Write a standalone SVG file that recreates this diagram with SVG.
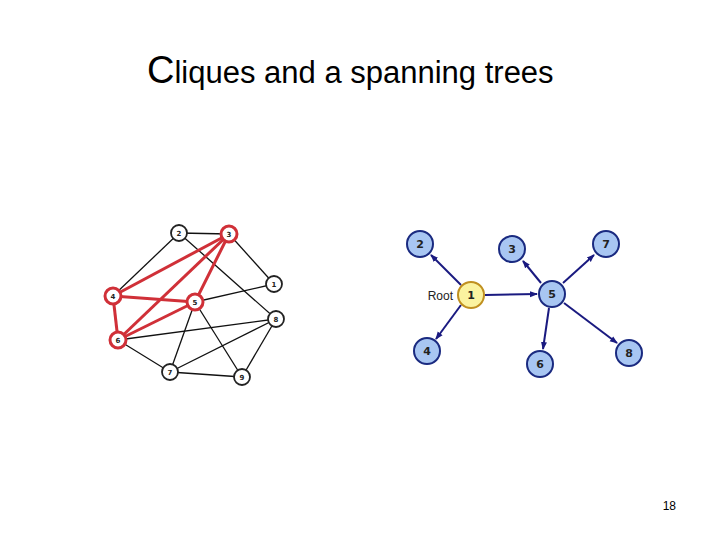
<svg xmlns="http://www.w3.org/2000/svg" width="720" height="540" viewBox="0 0 720 540">
<style>
.t{font-family:"Liberation Sans",Arial,sans-serif}
.bk{stroke:#111;stroke-width:1.3;fill:none}
.rd{stroke:#d03038;stroke-width:3;fill:none}
.bn{fill:#fff;stroke:#222;stroke-width:1.8}
.rn{fill:#fff;stroke:#d03038;stroke-width:3}
.sl{font-family:"DejaVu Sans",sans-serif;font-size:7px;font-weight:bold;text-anchor:middle;fill:#222}
.tr{stroke:#1a1a80;stroke-width:2;fill:none;marker-end:url(#ah)}
.tn{fill:#a8c6f2;stroke:#1a2a80;stroke-width:2}
.yn{fill:#fbf3a0;stroke:#c09020;stroke-width:2}
.tl{font-family:"DejaVu Sans",sans-serif;font-size:11px;font-weight:bold;text-anchor:middle;fill:#222}
</style>
<defs><marker id="ah" markerWidth="8" markerHeight="8" refX="7" refY="4" orient="auto" markerUnits="userSpaceOnUse"><path d="M0,1 L8,4 L0,7 z" fill="#1a1a80"/></marker></defs>
<rect width="720" height="540" fill="#fff"/>
<text class="t" x="147" y="83" font-size="38">C<tspan font-size="31">liques and a spanning trees</tspan></text>
<g id="connectors">
<g class="bk">
<line x1="179" y1="233" x2="229" y2="234"/><line x1="179" y1="233" x2="113" y2="296"/>
<line x1="179" y1="233" x2="276" y2="319"/><line x1="229" y1="234" x2="274" y2="284"/>
<line x1="274" y1="284" x2="195" y2="302"/><line x1="276" y1="319" x2="118" y2="340"/>
<line x1="276" y1="319" x2="170" y2="372"/><line x1="276" y1="319" x2="242" y2="377"/>
<line x1="195" y1="302" x2="170" y2="372"/><line x1="195" y1="302" x2="242" y2="377"/>
<line x1="118" y1="340" x2="170" y2="372"/><line x1="170" y1="372" x2="242" y2="377"/>
</g>
<g class="rd">
<line x1="229" y1="234" x2="113" y2="296"/><line x1="229" y1="234" x2="118" y2="340"/>
<line x1="229" y1="234" x2="195" y2="302"/><line x1="113" y1="296" x2="195" y2="302"/>
<line x1="113" y1="296" x2="118" y2="340"/><line x1="118" y1="340" x2="195" y2="302"/>
</g>
<line class="tr" x1="461" y1="285" x2="431" y2="255"/>
<line class="tr" x1="461" y1="305" x2="436" y2="339"/>
<line class="tr" x1="485" y1="295" x2="537" y2="294"/>
<line class="tr" x1="541" y1="283" x2="523" y2="261"/>
<line class="tr" x1="563" y1="283" x2="594" y2="255"/>
<line class="tr" x1="549" y1="308" x2="543" y2="349"/>
<line class="tr" x1="564" y1="303" x2="617" y2="343"/>
</g>
<g id="n2"><circle class="bn" cx="179" cy="233" r="8"/><text class="sl" x="179" y="236">2</text></g>
<g id="n3"><circle class="rn" cx="229" cy="234" r="8"/><text class="sl" x="229" y="237">3</text></g>
<g id="n1"><circle class="bn" cx="274" cy="284" r="8"/><text class="sl" x="274" y="287">1</text></g>
<g id="n4"><circle class="rn" cx="113" cy="296" r="8"/><text class="sl" x="113" y="299">4</text></g>
<g id="n5"><circle class="rn" cx="195" cy="302" r="8"/><text class="sl" x="195" y="305">5</text></g>
<g id="n8"><circle class="bn" cx="276" cy="319" r="8"/><text class="sl" x="276" y="322">8</text></g>
<g id="n6"><circle class="rn" cx="118" cy="340" r="8"/><text class="sl" x="118" y="343">6</text></g>
<g id="n7"><circle class="bn" cx="170" cy="372" r="8"/><text class="sl" x="170" y="375">7</text></g>
<g id="n9"><circle class="bn" cx="242" cy="377" r="8"/><text class="sl" x="242" y="380">9</text></g>
<g id="t2"><circle class="tn" cx="420" cy="244" r="13"/><text class="tl" x="420" y="248">2</text></g>
<g id="t3"><circle class="tn" cx="512" cy="249" r="13"/><text class="tl" x="512" y="253">3</text></g>
<g id="t7"><circle class="tn" cx="606" cy="244" r="13"/><text class="tl" x="606" y="248">7</text></g>
<g id="t1"><circle class="yn" cx="471" cy="295" r="13"/><text class="tl" x="471" y="299">1</text>
<text class="t" x="453" y="300" font-size="12" text-anchor="end" fill="#222">Root</text></g>
<g id="t5"><circle class="tn" cx="552" cy="294" r="13"/><text class="tl" x="552" y="298">5</text></g>
<g id="t4"><circle class="tn" cx="427" cy="351" r="13"/><text class="tl" x="427" y="355">4</text></g>
<g id="t6"><circle class="tn" cx="540" cy="364" r="13"/><text class="tl" x="540" y="368">6</text></g>
<g id="t8"><circle class="tn" cx="629" cy="353" r="13"/><text class="tl" x="629" y="357">8</text></g>
<text class="t" x="676" y="510" font-size="12" text-anchor="end">18</text>
</svg>
